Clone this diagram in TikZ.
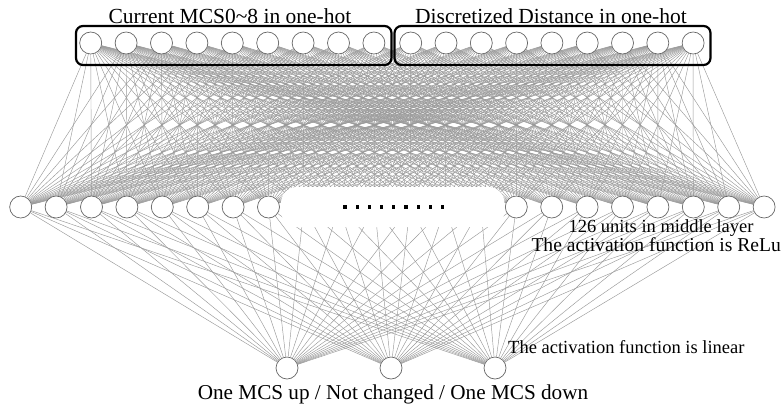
\documentclass[tikz,border=0pt]{standalone}
\usepackage{fontspec}
\setmainfont{Liberation Serif}
\usetikzlibrary{backgrounds}
\begin{document}
\begin{tikzpicture}[x=1pt,y=-1pt,
  unit/.style={circle,draw=black!60,fill=white,line width=0.7pt,minimum size=22pt,inner sep=0pt},
  link/.style={draw=black!40,line width=0.45pt},
  groupbox/.style={draw=black,line width=2.2pt,rounded corners=7pt},
  lbl/.style={font=\fontsize{18.5}{20}\selectfont,inner sep=0pt,anchor=base},
  biglbl/.style={lbl,font=\fontsize{21.5}{23}\selectfont}]
\useasboundingbox (0,0) rectangle (781,410);

% input layer: two one-hot groups of nine units
\foreach \i in {1,...,9} {
  \node[unit] (a\i) at ({90.7+35.4*(\i-1)},43) {};
  \node[unit] (b\i) at ({410.7+35.3*(\i-1)},43) {};
}
% middle layer: 22 positions, the central ones hidden under the ellipsis band
\foreach \j in {1,...,22} {
  \node[unit] (m\j) at ({20.7+35.4*(\j-1)},207) {};
}
% output layer
\node[unit] (o1) at (287,368) {};
\node[unit] (o2) at (391,368) {};
\node[unit] (o3) at (495,368) {};

\begin{pgfonlayer}{background}
  \foreach \j in {1,...,22} {
    \foreach \i in {1,...,9} {
      \draw[link] (a\i) -- (m\j);
      \draw[link] (b\i) -- (m\j);
    }
    \foreach \k in {1,2,3} {
      \draw[link] (m\j) -- (o\k);
    }
  }
\end{pgfonlayer}

% band covering the hidden middle units
\fill[white,rounded corners=16pt] (281,187) rectangle (504.5,227);
\foreach \d in {0,...,8} {
  \fill[black] ({345+12.2*\d-1.6},205.4) rectangle ++(3.2,3.2);
}

% groups
\draw[groupbox] (76,26) rectangle (391.5,65);
\draw[groupbox] (394.5,26) rectangle (710.5,65);

% labels
\node[biglbl] (tA) at (230,23.3) {Current MCS0\textasciitilde8 in one-hot};
\node[biglbl] (tB) at (551,23.3) {Discretized Distance in one-hot};
\node[lbl] (tM1) at (661,232.5) {126 units in middle layer};
\node[lbl,anchor=base east,font=\fontsize{19.6}{21}\selectfont] (tM2) at (781,251) {The activation function is ReLu};
\node[lbl,anchor=base west] (tO) at (508,353.5) {The activation function is linear};
\node[biglbl,font=\fontsize{21.2}{23}\selectfont] (tOut) at (393,399) {One MCS up / Not changed / One MCS down};
\end{tikzpicture}
\end{document}
